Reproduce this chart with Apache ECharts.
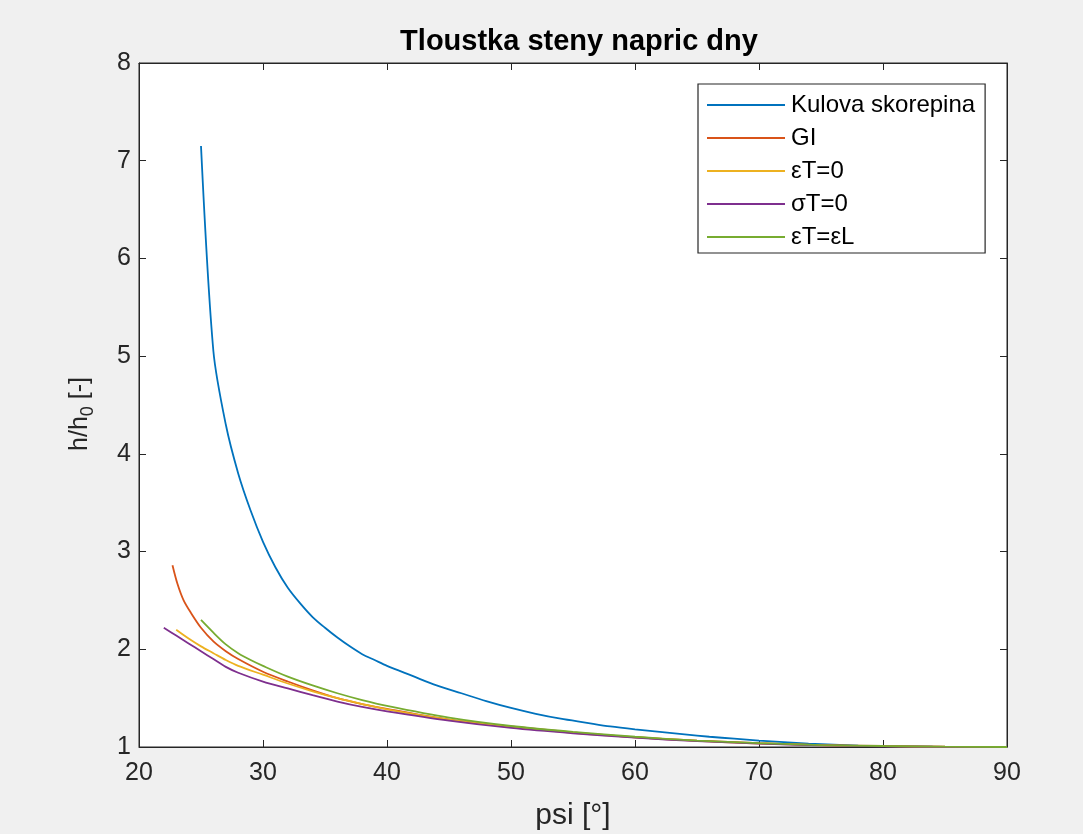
<!DOCTYPE html>
<html>
<head>
<meta charset="utf-8">
<script src="https://cdn.jsdelivr.net/npm/echarts@6/dist/echarts.min.js"></script>
<style>
html,body{margin:0;padding:0;background:#f0f0f0;}
#c{width:1083px;height:834px;}
</style>
</head>
<body>
<div id="c"></div>
<script>
// Data
const seriesNames = ['Kulova skorepina', 'GI', 'εT=0', 'σT=0', 'εT=εL'];
const seriesColors = ['#0072BD', '#D95319', '#EDB120', '#7E2F8E', '#77AC30'];

const kulovaPsi = [25, 26, 27, 28, 29, 30, 31, 32, 33, 34, 35, 36, 37, 38, 39, 40, 42, 44, 46, 48, 50, 52, 54, 56, 58, 60, 62, 64, 66, 68, 70, 72, 74, 76, 78, 80, 84, 90];
const kulovaVal = [7.15, 5.05, 4.3, 3.8, 3.42, 3.1, 2.84, 2.63, 2.47, 2.33, 2.22, 2.12, 2.03, 1.95, 1.89, 1.83, 1.73, 1.63, 1.55, 1.47, 1.4, 1.34, 1.29, 1.25, 1.21, 1.18, 1.155, 1.13, 1.105, 1.085, 1.065, 1.05, 1.035, 1.025, 1.015, 1.01, 1.004, 1.0];

const giPsi = [22.7, 23.1, 23.6, 24.2, 25, 26, 27, 28, 30, 32, 34, 36, 38, 40, 45, 50, 55, 60, 65, 70, 75, 80, 85, 90];
const giVal = [2.86, 2.67, 2.5, 2.37, 2.22, 2.08, 1.98, 1.9, 1.77, 1.67, 1.58, 1.5, 1.44, 1.39, 1.28, 1.21, 1.15, 1.1, 1.065, 1.04, 1.02, 1.01, 1.003, 1.0];

const eT0Psi = [23, 24, 25, 26, 27, 28, 30, 32, 34, 36, 38, 40, 45, 50, 55, 60, 65, 70, 75, 80, 85, 90];
const eT0Val = [2.2, 2.11, 2.03, 1.96, 1.89, 1.83, 1.74, 1.65, 1.57, 1.5, 1.44, 1.385, 1.28, 1.205, 1.145, 1.1, 1.062, 1.036, 1.018, 1.008, 1.002, 1.0];

const sT0Psi = [22, 23, 24, 25, 26, 27, 28, 30, 32, 34, 36, 38, 40, 45, 50, 55, 60, 65, 70, 75, 80, 85, 90];
const sT0Val = [2.22, 2.14, 2.06, 1.98, 1.9, 1.82, 1.76, 1.67, 1.6, 1.53, 1.465, 1.41, 1.365, 1.27, 1.195, 1.14, 1.095, 1.06, 1.035, 1.017, 1.007, 1.002, 1.0];

const eTeLPsi = [25, 26, 27, 28, 29, 30, 32, 34, 36, 38, 40, 45, 50, 55, 60, 65, 70, 75, 80, 85, 90];
const eTeLVal = [2.3, 2.17, 2.05, 1.96, 1.89, 1.83, 1.72, 1.63, 1.55, 1.48, 1.42, 1.3, 1.215, 1.155, 1.105, 1.066, 1.04, 1.02, 1.01, 1.003, 1.0];

const xTicks = [20, 30, 40, 50, 60, 70, 80, 90];
const yTicks = [1, 2, 3, 4, 5, 6, 7, 8];

const psiArrays = [kulovaPsi, giPsi, eT0Psi, sT0Psi, eTeLPsi];
const valArrays = [kulovaVal, giVal, eT0Val, sT0Val, eTeLVal];

const txt = '#262626';
const font = 'Liberation Sans, Arial, Helvetica, sans-serif';

const chart = echarts.init(document.getElementById('c'), null, {renderer: 'canvas'});

const series = seriesNames.map((name, i) => ({
  name: name,
  type: 'line',
  xAxisIndex: 0,
  yAxisIndex: 0,
  data: psiArrays[i].map((p, j) => [p, valArrays[i][j]]),
  smooth: 0.3,
  showSymbol: false,
  symbol: 'none',
  lineStyle: {color: seriesColors[i], width: 1.8},
  itemStyle: {color: seriesColors[i]},
  emphasis: {disabled: true},
  animation: false
}));

const tickStyle = {show: true, inside: true, length: 7, lineStyle: {color: txt, width: 1}};

chart.setOption({
  backgroundColor: '#f0f0f0',
  animation: false,
  title: {
    text: 'Tloustka steny napric dny',
    left: 574,
    textAlign: 'center',
    top: 22,
    textStyle: {fontFamily: font, fontWeight: 'bold', fontSize: 29, color: '#000'}
  },
  grid: {
    left: 139, right: 76, top: 63, bottom: 87,
    containLabel: false,
    outerBoundsMode: 'none',
    show: true, backgroundColor: '#ffffff', borderColor: txt, borderWidth: 1
  },
  legend: {
    orient: 'vertical',
    left: 698, top: 84,
    padding: [9, 10, 4, 9],
    backgroundColor: '#ffffff',
    borderColor: txt,
    borderWidth: 1.2,
    borderRadius: 0,
    itemWidth: 78,
    itemHeight: 2,
    itemGap: 9,
    icon: 'rect',
    textStyle: {fontFamily: font, fontSize: 24, color: '#000', padding: [0, 0, 0, 1], lineHeight: 20},
    data: seriesNames
  },
  xAxis: [{
    type: 'value', min: xTicks[0], max: xTicks[xTicks.length - 1], interval: 10,
    position: 'bottom',
    name: 'psi [°]', nameLocation: 'middle', nameGap: 54,
    nameTextStyle: {fontFamily: font, fontSize: 30, color: txt},
    axisLine: {show: true, lineStyle: {color: txt, width: 1}},
    axisTick: tickStyle,
    axisLabel: {fontFamily: font, fontSize: 25, color: txt, margin: 14},
    splitLine: {show: false}
  }, {
    type: 'value', min: xTicks[0], max: xTicks[xTicks.length - 1], interval: 10,
    position: 'top',
    axisLine: {show: true, lineStyle: {color: txt, width: 1}},
    axisTick: tickStyle,
    axisLabel: {show: false},
    splitLine: {show: false}
  }],
  yAxis: [{
    type: 'value', min: yTicks[0], max: yTicks[yTicks.length - 1], interval: 1,
    position: 'left',
    name: '{a|h/h}{s|0}{a| [-]}', nameLocation: 'middle', nameGap: 42,
    nameTextStyle: {
      padding: [0, 18, 0, 0],
      rich: {
        a: {fontFamily: font, fontSize: 25, color: txt},
        s: {fontFamily: font, fontSize: 18, color: txt, verticalAlign: 'bottom', padding: [15, 0, 0, 0]}
      }
    },
    axisLine: {show: true, lineStyle: {color: txt, width: 1}},
    axisTick: tickStyle,
    axisLabel: {fontFamily: font, fontSize: 25, color: txt, margin: 8},
    splitLine: {show: false}
  }, {
    type: 'value', min: yTicks[0], max: yTicks[yTicks.length - 1], interval: 1,
    position: 'right',
    axisLine: {show: true, lineStyle: {color: txt, width: 1}},
    axisTick: tickStyle,
    axisLabel: {show: false},
    splitLine: {show: false}
  }],
  series: series
});
</script>
</body>
</html>
